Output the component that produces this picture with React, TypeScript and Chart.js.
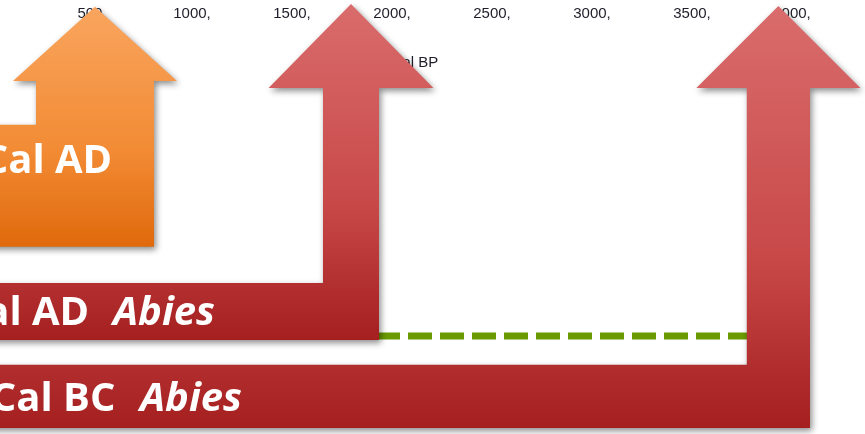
import React, { useEffect, useRef } from "react";
import { Chart, registerables } from "chart.js";

Chart.register(...registerables);

// ---- axis ----
const axisTitle = "Cal BP";
const tickValues = [500, 1000, 1500, 2000, 2500, 3000, 3500, 4000];
const axisMin = 40;
const axisMax = 4190;

// ---- dashed Abies line (Cal BP, level) ----
const abiesLineX = [0, 4000];
const abiesLineY = [27.1, 27.1];

// ---- arrow annotations (x in Cal BP, y in level units 0..100) ----
const arrowMain = ["Cal AD", "Cal AD", "Cal BC"];
const arrowItalic = ["", "Abies", "Abies"];
const arrowCenter = [515, 1795, 3932];
const arrowShaftHalf = [295, 140, 158];
const arrowHeadHalf = [410, 412, 410];
const arrowTip = [118, 118.8, 118.2];
const arrowHeadBase = [97.5, 95.6, 95.6];
const arrowBarTop = [85.4, 41.7, 19.1];
const arrowBarBottom = [51.7, 26.0, 1.66];
const arrowSecondWordX = [315, 200, 355];
const arrowItalicX = [0, 605, 740];
const arrowTextBaseline = [72.1, 30.1, 6.35];
const arrowPalette = [
  ["#f9a55e", "#f28b34", "#e0690c"],
  ["#da6c6c", "#c84848", "#a51f1f"],
  ["#da6c6c", "#c84848", "#a51f1f"],
];

const arrowsPlugin = {
  id: "arrows",
  afterDatasetsDraw(chart: any) {
    const ctx = chart.ctx;
    const xs = chart.scales.x;
    const ys = chart.scales.y;
    const X = (v: number) => xs.getPixelForValue(v);
    const Y = (v: number) => ys.getPixelForValue(v);
    const left = X(-600);
    for (let i = 0; i < arrowCenter.length; i++) {
      const c = arrowCenter[i];
      const sh = arrowShaftHalf[i];
      const hh = arrowHeadHalf[i];
      ctx.save();
      ctx.beginPath();
      ctx.moveTo(left, Y(arrowBarBottom[i]));
      ctx.lineTo(X(c + sh), Y(arrowBarBottom[i]));
      ctx.lineTo(X(c + sh), Y(arrowHeadBase[i]));
      ctx.lineTo(X(c + hh), Y(arrowHeadBase[i]));
      ctx.lineTo(X(c), Y(arrowTip[i]));
      ctx.lineTo(X(c - hh), Y(arrowHeadBase[i]));
      ctx.lineTo(X(c - sh), Y(arrowHeadBase[i]));
      ctx.lineTo(X(c - sh), Y(arrowBarTop[i]));
      ctx.lineTo(left, Y(arrowBarTop[i]));
      ctx.closePath();
      const g = ctx.createLinearGradient(0, Y(arrowTip[i]), 0, Y(arrowBarBottom[i]));
      const pal = arrowPalette[i];
      g.addColorStop(0, pal[0]);
      g.addColorStop(0.6, pal[1]);
      g.addColorStop(1, pal[2]);
      ctx.fillStyle = g;
      ctx.shadowColor = "rgba(0,0,0,0.45)";
      ctx.shadowBlur = 6;
      ctx.shadowOffsetX = 2;
      ctx.shadowOffsetY = 3;
      ctx.fill();
      ctx.restore();

      ctx.save();
      ctx.fillStyle = "#ffffff";
      ctx.textBaseline = "alphabetic";
      ctx.textAlign = "left";
      ctx.font = 'bold 40px "Open Sans"';
      const lead = ctx.measureText("Cal ").width;
      ctx.fillText(arrowMain[i], X(arrowSecondWordX[i]) - lead, Y(arrowTextBaseline[i]));
      if (arrowItalic[i]) {
        ctx.font = 'italic bold 40px "Open Sans"';
        ctx.fillText(arrowItalic[i], X(arrowItalicX[i]), Y(arrowTextBaseline[i]));
      }
      ctx.restore();
    }
  },
};

export default function App() {
  const ref = useRef<HTMLCanvasElement | null>(null);
  useEffect(() => {
    if (!ref.current) return;
    const chart = new Chart(ref.current, {
      type: "line",
      data: {
        datasets: [
          {
            label: "Abies",
            data: abiesLineX.map((x, i) => ({ x, y: abiesLineY[i] })),
            borderColor: "#6a9a00",
            borderWidth: 7,
            borderDash: [24, 8],
            borderCapStyle: "butt",
            pointRadius: 0,
            fill: false,
            xAxisID: "x",
            yAxisID: "y",
          } as any,
        ],
      },
      options: {
        animation: false,
        responsive: false,
        devicePixelRatio: 1,
        layout: { padding: { left: 0, right: 35, top: 5, bottom: 0 } },
        plugins: { legend: { display: false }, tooltip: { enabled: false } },
        scales: {
          x: {
            type: "linear",
            position: "top",
            weight: 1,
            min: axisMin,
            max: axisMax,
            grid: { display: false, drawTicks: false },
            border: { display: false },
            afterBuildTicks: (s: any) => {
              s.ticks = tickValues.map((v) => ({ value: v }));
            },
            ticks: {
              padding: 0,
              autoSkip: false,
              maxRotation: 0,
              color: "#1e1e2a",
              font: { family: '"Liberation Sans"', size: 15 },
              callback: (v: any) => v + ",",
            },
          },
          x2: {
            type: "linear",
            position: "top",
            weight: 0,
            min: axisMin,
            max: axisMax,
            grid: { display: false, drawTicks: false },
            border: { display: false },
            ticks: { display: false },
            title: {
              display: true,
              text: axisTitle,
              color: "#1e1e2a",
              font: { family: '"Liberation Sans"', size: 15 },
              padding: { top: 31, bottom: 0 },
            },
          },
          y: { type: "linear", min: 0, max: 100, display: false },
        },
      },
      plugins: [arrowsPlugin],
    });
    return () => chart.destroy();
  }, []);
  return (
    <div style={{ position: "fixed", left: 0, top: 0, width: 865, height: 434, background: "#fff" }}>
      <canvas ref={ref} width={865} height={434} style={{ display: "block" }} />
    </div>
  );
}
